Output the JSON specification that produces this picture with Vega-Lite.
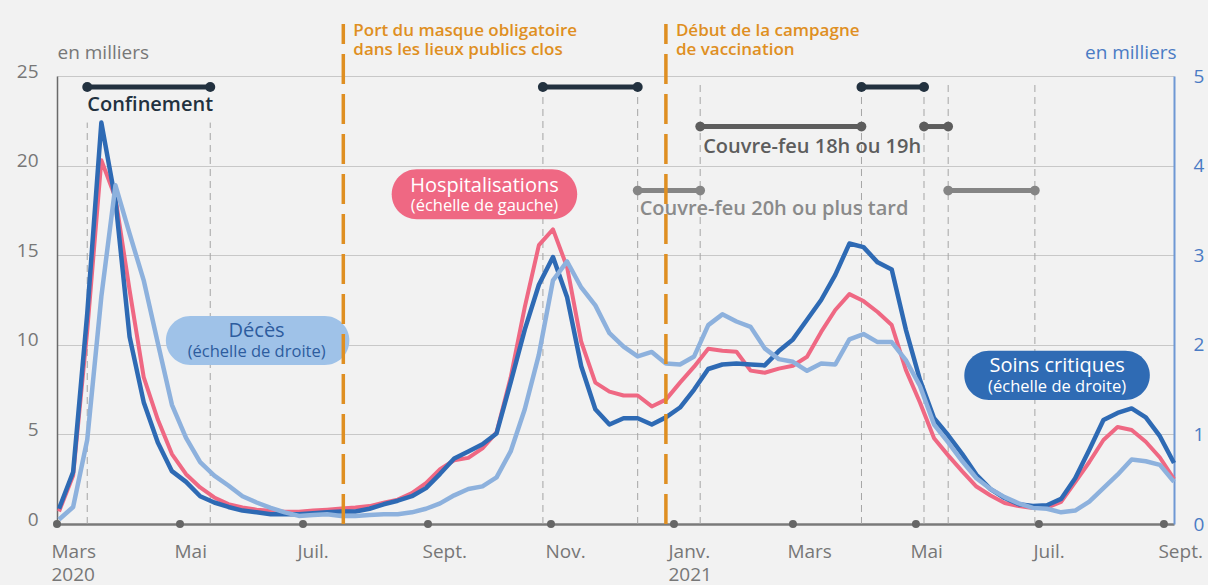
{
  "$schema": "https://vega.github.io/schema/vega-lite/v6.json",
  "width": 1117,
  "height": 448,
  "autosize": {"type": "none"},
  "padding": {"left": 57, "top": 76, "right": 35, "bottom": 61},
  "background": "#f2f2f2",
  "config": {"font": "Open Sans", "view": {"stroke": null}},
  "datasets": {
    "series": [
      {"date": "2020-03-02", "hosp": 0.7, "rea": 0.17, "dc": 0.05},
      {"date": "2020-03-09", "hosp": 2.7, "rea": 0.58, "dc": 0.19},
      {"date": "2020-03-16", "hosp": 10.8, "rea": 2.35, "dc": 0.94},
      {"date": "2020-03-23", "hosp": 20.3, "rea": 4.48, "dc": 2.54},
      {"date": "2020-03-30", "hosp": 18.2, "rea": 3.61, "dc": 3.78},
      {"date": "2020-04-06", "hosp": 13.05, "rea": 2.09, "dc": 3.24},
      {"date": "2020-04-13", "hosp": 8.2, "rea": 1.36, "dc": 2.72},
      {"date": "2020-04-20", "hosp": 5.83, "rea": 0.91, "dc": 2.02},
      {"date": "2020-04-27", "hosp": 3.9, "rea": 0.59, "dc": 1.33},
      {"date": "2020-05-04", "hosp": 2.78, "rea": 0.47, "dc": 0.96},
      {"date": "2020-05-11", "hosp": 2.04, "rea": 0.31, "dc": 0.69},
      {"date": "2020-05-18", "hosp": 1.48, "rea": 0.24, "dc": 0.54},
      {"date": "2020-05-25", "hosp": 1.11, "rea": 0.19, "dc": 0.43},
      {"date": "2020-06-01", "hosp": 0.92, "rea": 0.15, "dc": 0.31},
      {"date": "2020-06-08", "hosp": 0.8, "rea": 0.13, "dc": 0.24},
      {"date": "2020-06-15", "hosp": 0.74, "rea": 0.11, "dc": 0.18},
      {"date": "2020-06-22", "hosp": 0.69, "rea": 0.11, "dc": 0.13},
      {"date": "2020-06-29", "hosp": 0.68, "rea": 0.11, "dc": 0.09},
      {"date": "2020-07-06", "hosp": 0.75, "rea": 0.12, "dc": 0.1},
      {"date": "2020-07-13", "hosp": 0.8, "rea": 0.13, "dc": 0.11},
      {"date": "2020-07-20", "hosp": 0.86, "rea": 0.14, "dc": 0.09},
      {"date": "2020-07-27", "hosp": 0.92, "rea": 0.14, "dc": 0.09},
      {"date": "2020-08-03", "hosp": 1.0, "rea": 0.17, "dc": 0.1},
      {"date": "2020-08-10", "hosp": 1.19, "rea": 0.22, "dc": 0.11},
      {"date": "2020-08-17", "hosp": 1.36, "rea": 0.26, "dc": 0.11},
      {"date": "2020-08-24", "hosp": 1.72, "rea": 0.31, "dc": 0.13},
      {"date": "2020-08-31", "hosp": 2.28, "rea": 0.4, "dc": 0.17},
      {"date": "2020-09-07", "hosp": 3.06, "rea": 0.56, "dc": 0.23},
      {"date": "2020-09-14", "hosp": 3.56, "rea": 0.73, "dc": 0.32},
      {"date": "2020-09-21", "hosp": 3.69, "rea": 0.81, "dc": 0.39},
      {"date": "2020-09-28", "hosp": 4.22, "rea": 0.89, "dc": 0.42},
      {"date": "2020-10-05", "hosp": 5.11, "rea": 1.01, "dc": 0.52},
      {"date": "2020-10-12", "hosp": 8.17, "rea": 1.58, "dc": 0.81},
      {"date": "2020-10-19", "hosp": 12.1, "rea": 2.17, "dc": 1.28},
      {"date": "2020-10-26", "hosp": 15.56, "rea": 2.67, "dc": 1.89},
      {"date": "2020-11-02", "hosp": 16.44, "rea": 2.98, "dc": 2.72},
      {"date": "2020-11-09", "hosp": 14.33, "rea": 2.53, "dc": 2.93},
      {"date": "2020-11-16", "hosp": 10.17, "rea": 1.76, "dc": 2.64},
      {"date": "2020-11-23", "hosp": 7.89, "rea": 1.28, "dc": 2.44},
      {"date": "2020-11-30", "hosp": 7.39, "rea": 1.11, "dc": 2.13},
      {"date": "2020-12-07", "hosp": 7.17, "rea": 1.18, "dc": 1.98},
      {"date": "2020-12-14", "hosp": 7.17, "rea": 1.18, "dc": 1.87},
      {"date": "2020-12-21", "hosp": 6.56, "rea": 1.11, "dc": 1.92},
      {"date": "2020-12-28", "hosp": 6.94, "rea": 1.19, "dc": 1.79},
      {"date": "2021-01-04", "hosp": 7.89, "rea": 1.3, "dc": 1.78},
      {"date": "2021-01-11", "hosp": 8.78, "rea": 1.5, "dc": 1.87},
      {"date": "2021-01-18", "hosp": 9.78, "rea": 1.73, "dc": 2.22},
      {"date": "2021-01-25", "hosp": 9.67, "rea": 1.78, "dc": 2.34},
      {"date": "2021-02-01", "hosp": 9.61, "rea": 1.79, "dc": 2.26},
      {"date": "2021-02-08", "hosp": 8.56, "rea": 1.78, "dc": 2.2},
      {"date": "2021-02-15", "hosp": 8.44, "rea": 1.77, "dc": 1.96},
      {"date": "2021-02-22", "hosp": 8.67, "rea": 1.93, "dc": 1.84},
      {"date": "2021-03-01", "hosp": 8.83, "rea": 2.06, "dc": 1.81},
      {"date": "2021-03-08", "hosp": 9.33, "rea": 2.28, "dc": 1.71},
      {"date": "2021-03-15", "hosp": 10.72, "rea": 2.5, "dc": 1.79},
      {"date": "2021-03-22", "hosp": 11.94, "rea": 2.78, "dc": 1.78},
      {"date": "2021-03-29", "hosp": 12.83, "rea": 3.13, "dc": 2.06},
      {"date": "2021-04-05", "hosp": 12.44, "rea": 3.09, "dc": 2.12},
      {"date": "2021-04-12", "hosp": 11.83, "rea": 2.92, "dc": 2.03},
      {"date": "2021-04-19", "hosp": 11.1, "rea": 2.84, "dc": 2.03},
      {"date": "2021-04-26", "hosp": 8.6, "rea": 2.17, "dc": 1.83},
      {"date": "2021-05-03", "hosp": 6.78, "rea": 1.61, "dc": 1.54},
      {"date": "2021-05-10", "hosp": 4.78, "rea": 1.18, "dc": 1.11},
      {"date": "2021-05-17", "hosp": 3.83, "rea": 0.99, "dc": 0.91},
      {"date": "2021-05-24", "hosp": 2.94, "rea": 0.78, "dc": 0.7},
      {"date": "2021-05-31", "hosp": 2.09, "rea": 0.55, "dc": 0.51},
      {"date": "2021-06-07", "hosp": 1.59, "rea": 0.39, "dc": 0.39},
      {"date": "2021-06-14", "hosp": 1.17, "rea": 0.29, "dc": 0.3},
      {"date": "2021-06-21", "hosp": 1.0, "rea": 0.22, "dc": 0.23},
      {"date": "2021-06-28", "hosp": 0.89, "rea": 0.2, "dc": 0.18},
      {"date": "2021-07-05", "hosp": 0.92, "rea": 0.21, "dc": 0.17},
      {"date": "2021-07-12", "hosp": 1.23, "rea": 0.28, "dc": 0.13},
      {"date": "2021-07-19", "hosp": 2.34, "rea": 0.51, "dc": 0.15},
      {"date": "2021-07-26", "hosp": 3.46, "rea": 0.83, "dc": 0.25},
      {"date": "2021-08-02", "hosp": 4.69, "rea": 1.16, "dc": 0.4},
      {"date": "2021-08-09", "hosp": 5.41, "rea": 1.24, "dc": 0.55},
      {"date": "2021-08-16", "hosp": 5.25, "rea": 1.29, "dc": 0.72},
      {"date": "2021-08-23", "hosp": 4.59, "rea": 1.19, "dc": 0.7},
      {"date": "2021-08-30", "hosp": 3.71, "rea": 0.98, "dc": 0.66},
      {"date": "2021-09-06", "hosp": 2.5, "rea": 0.68, "dc": 0.47}
    ],
    "events": [
      {"type": "Confinement", "bar": 1, "date": "2020-03-16"},
      {"type": "Confinement", "bar": 1, "date": "2020-05-16"},
      {"type": "Confinement", "bar": 2, "date": "2020-10-28"},
      {"type": "Confinement", "bar": 2, "date": "2020-12-14"},
      {"type": "Confinement", "bar": 3, "date": "2021-04-04"},
      {"type": "Confinement", "bar": 3, "date": "2021-05-05"},
      {"type": "Couvre-feu 18h ou 19h", "bar": 4, "date": "2021-01-14"},
      {"type": "Couvre-feu 18h ou 19h", "bar": 4, "date": "2021-04-04"},
      {"type": "Couvre-feu 18h ou 19h", "bar": 5, "date": "2021-05-05"},
      {"type": "Couvre-feu 18h ou 19h", "bar": 5, "date": "2021-05-17"},
      {"type": "Couvre-feu 20h ou plus tard", "bar": 6, "date": "2020-12-14"},
      {"type": "Couvre-feu 20h ou plus tard", "bar": 6, "date": "2021-01-14"},
      {"type": "Couvre-feu 20h ou plus tard", "bar": 7, "date": "2021-05-17"},
      {"type": "Couvre-feu 20h ou plus tard", "bar": 7, "date": "2021-06-29"}
    ],
    "switches": [
      {"date": "2020-03-16", "kind": "confinement1"},
      {"date": "2020-05-16", "kind": "confinement1"},
      {"date": "2020-10-28", "kind": "autre"},
      {"date": "2020-12-14", "kind": "autre"},
      {"date": "2021-01-14", "kind": "autre"},
      {"date": "2021-04-04", "kind": "autre"},
      {"date": "2021-05-05", "kind": "autre"},
      {"date": "2021-05-17", "kind": "autre"},
      {"date": "2021-06-29", "kind": "autre"}
    ],
    "periods": [
      {"type": "Confinement"},
      {"type": "Couvre-feu 18h ou 19h"},
      {"type": "Couvre-feu 20h ou plus tard"}
    ],
    "measures": [
      {"date": "2020-07-21", "label": "Port du masque obligatoire\ndans les lieux publics clos"},
      {"date": "2020-12-28", "label": "Début de la campagne\nde vaccination"}
    ],
    "legend": [
      {"series": "Hospitalisations", "note": "(échelle de gauche)"},
      {"series": "Décès", "note": "(échelle de droite)"},
      {"series": "Soins critiques", "note": "(échelle de droite)"}
    ],
    "months": [
      {"date": "2020-03-01"}, {"date": "2020-05-01"}, {"date": "2020-07-01"},
      {"date": "2020-09-01"}, {"date": "2020-11-01"}, {"date": "2021-01-01"},
      {"date": "2021-03-01"}, {"date": "2021-05-01"}, {"date": "2021-07-01"},
      {"date": "2021-09-01"}
    ]
  },
  "layer": [
    {
      "layer": [
        {
          "data": {"name": "switches"},
          "transform": [{"filter": "datum.kind == 'confinement1'"}],
          "mark": {"type": "rule", "color": "#a5a5a5", "strokeWidth": 1, "strokeDash": [7, 5]},
          "encoding": {
            "x": {"field": "date", "type": "temporal", "scale": {"type": "utc"}},
            "y": {"datum": 0},
            "y2": {"datum": 22.4}
          }
        },
        {
          "data": {"name": "switches"},
          "transform": [{"filter": "datum.kind == 'autre'"}],
          "mark": {"type": "rule", "color": "#a5a5a5", "strokeWidth": 1, "strokeDash": [7, 5]},
          "encoding": {
            "x": {"field": "date", "type": "temporal", "scale": {"type": "utc"}},
            "y": {"datum": 0},
            "y2": {"datum": 24.6}
          }
        },
        {
          "data": {"name": "events"},
          "transform": [{"filter": "datum.type == 'Couvre-feu 20h ou plus tard'"}],
          "mark": {"type": "line", "color": "#858585", "strokeWidth": 5, "point": {"filled": true, "size": 95, "color": "#858585", "opacity": 1}},
          "encoding": {
            "x": {"field": "date", "type": "temporal", "scale": {"type": "utc"}},
            "y": {"datum": 18.61},
            "detail": {"field": "bar", "type": "nominal"}
          }
        },
        {
          "data": {"name": "events"},
          "transform": [{"filter": "datum.type == 'Couvre-feu 18h ou 19h'"}],
          "mark": {"type": "line", "color": "#5d5d5d", "strokeWidth": 5, "point": {"filled": true, "size": 95, "color": "#5d5d5d", "opacity": 1}},
          "encoding": {
            "x": {"field": "date", "type": "temporal", "scale": {"type": "utc"}},
            "y": {"datum": 22.18},
            "detail": {"field": "bar", "type": "nominal"}
          }
        },
        {
          "data": {"name": "events"},
          "transform": [{"filter": "datum.type == 'Confinement'"}],
          "mark": {"type": "line", "color": "#22313f", "strokeWidth": 5, "point": {"filled": true, "size": 100, "color": "#22313f", "opacity": 1}},
          "encoding": {
            "x": {"field": "date", "type": "temporal", "scale": {"type": "utc"}},
            "y": {"datum": 24.39},
            "detail": {"field": "bar", "type": "nominal"}
          }
        },
        {
          "data": {"name": "periods"},
          "transform": [{"filter": "datum.type == 'Confinement'"}],
          "mark": {"type": "text", "align": "left", "baseline": "alphabetic", "fontSize": 20, "fontWeight": 600, "color": "#22313f"},
          "encoding": {
            "x": {"datum": {"year": 2020, "month": 3, "date": 16, "utc": true}, "type": "temporal", "scale": {"type": "utc"}},
            "y": {"datum": 23.05},
            "text": {"field": "type"}
          }
        },
        {
          "data": {"name": "periods"},
          "transform": [{"filter": "datum.type == 'Couvre-feu 18h ou 19h'"}],
          "mark": {"type": "text", "align": "left", "baseline": "alphabetic", "fontSize": 20, "fontWeight": 600, "color": "#5d5d5d", "dx": 3},
          "encoding": {
            "x": {"datum": {"year": 2021, "month": 1, "date": 14, "utc": true}, "type": "temporal", "scale": {"type": "utc"}},
            "y": {"datum": 20.69},
            "text": {"field": "type"}
          }
        },
        {
          "data": {"name": "periods"},
          "transform": [{"filter": "datum.type == 'Couvre-feu 20h ou plus tard'"}],
          "mark": {"type": "text", "align": "left", "baseline": "alphabetic", "fontSize": 20, "fontWeight": 600, "color": "#8a8a8a", "dx": 2},
          "encoding": {
            "x": {"datum": {"year": 2020, "month": 12, "date": 14, "utc": true}, "type": "temporal", "scale": {"type": "utc"}},
            "y": {"datum": 17.24},
            "text": {"field": "type"}
          }
        },
        {
          "data": {"name": "legend"},
          "transform": [{"filter": "datum.series == 'Hospitalisations'"}],
          "mark": {"type": "rect", "color": "#ef6883", "cornerRadius": 25},
          "encoding": {
            "x": {"datum": {"year": 2020, "month": 8, "date": 14, "utc": true}, "type": "temporal", "scale": {"type": "utc"}},
            "x2": {"datum": {"year": 2020, "month": 11, "date": 14, "utc": true}},
            "y": {"datum": 19.79},
            "y2": {"datum": 17.0}
          }
        },
        {
          "data": {"name": "legend"},
          "transform": [{"filter": "datum.series == 'Décès'"}],
          "mark": {"type": "rect", "color": "#9fc2e8", "cornerRadius": 24.5},
          "encoding": {
            "x": {"datum": {"year": 2020, "month": 4, "date": 24, "utc": true}, "type": "temporal", "scale": {"type": "utc"}},
            "x2": {"datum": {"year": 2020, "month": 7, "date": 24, "utc": true}},
            "y": {"datum": 11.61},
            "y2": {"datum": 8.87}
          }
        },
        {
          "data": {"name": "legend"},
          "transform": [{"filter": "datum.series == 'Soins critiques'"}],
          "mark": {"type": "rect", "color": "#2f6bb4", "cornerRadius": 24.5},
          "encoding": {
            "x": {"datum": {"year": 2021, "month": 5, "date": 25, "utc": true}, "type": "temporal", "scale": {"type": "utc"}},
            "x2": {"datum": {"year": 2021, "month": 8, "date": 25, "utc": true}},
            "y": {"datum": 9.67},
            "y2": {"datum": 6.92}
          }
        },
        {
          "data": {"name": "legend"},
          "transform": [{"filter": "datum.series == 'Hospitalisations'"}],
          "mark": {"type": "text", "align": "center", "baseline": "alphabetic", "fontSize": 20, "color": "white"},
          "encoding": {
            "x": {"datum": {"year": 2020, "month": 9, "date": 29, "utc": true}, "type": "temporal", "scale": {"type": "utc"}},
            "y": {"datum": 18.54},
            "text": {"field": "series"}
          }
        },
        {
          "data": {"name": "legend"},
          "transform": [{"filter": "datum.series == 'Hospitalisations'"}],
          "mark": {"type": "text", "align": "center", "baseline": "alphabetic", "fontSize": 16.5, "color": "white"},
          "encoding": {
            "x": {"datum": {"year": 2020, "month": 9, "date": 29, "utc": true}, "type": "temporal", "scale": {"type": "utc"}},
            "y": {"datum": 17.48},
            "text": {"field": "note"}
          }
        },
        {
          "data": {"name": "legend"},
          "transform": [{"filter": "datum.series == 'Décès'"}],
          "mark": {"type": "text", "align": "center", "baseline": "alphabetic", "fontSize": 20, "color": "#2d5c9e"},
          "encoding": {
            "x": {"datum": {"year": 2020, "month": 6, "date": 8, "utc": true}, "type": "temporal", "scale": {"type": "utc"}},
            "y": {"datum": 10.44},
            "text": {"field": "series"}
          }
        },
        {
          "data": {"name": "legend"},
          "transform": [{"filter": "datum.series == 'Décès'"}],
          "mark": {"type": "text", "align": "center", "baseline": "alphabetic", "fontSize": 16.5, "color": "#2d5c9e"},
          "encoding": {
            "x": {"datum": {"year": 2020, "month": 6, "date": 8, "utc": true}, "type": "temporal", "scale": {"type": "utc"}},
            "y": {"datum": 9.34},
            "text": {"field": "note"}
          }
        },
        {
          "data": {"name": "legend"},
          "transform": [{"filter": "datum.series == 'Soins critiques'"}],
          "mark": {"type": "text", "align": "center", "baseline": "alphabetic", "fontSize": 20, "color": "white"},
          "encoding": {
            "x": {"datum": {"year": 2021, "month": 7, "date": 10, "utc": true}, "type": "temporal", "scale": {"type": "utc"}},
            "y": {"datum": 8.5},
            "text": {"field": "series"}
          }
        },
        {
          "data": {"name": "legend"},
          "transform": [{"filter": "datum.series == 'Soins critiques'"}],
          "mark": {"type": "text", "align": "center", "baseline": "alphabetic", "fontSize": 16.5, "color": "white"},
          "encoding": {
            "x": {"datum": {"year": 2021, "month": 7, "date": 10, "utc": true}, "type": "temporal", "scale": {"type": "utc"}},
            "y": {"datum": 7.35},
            "text": {"field": "note"}
          }
        },
        {
          "data": {"name": "series"},
          "mark": {"type": "line", "color": "#ef6883", "strokeWidth": 4, "strokeJoin": "round"},
          "encoding": {
            "x": {
              "field": "date", "type": "temporal",
              "scale": {"type": "utc", "domain": [{"year": 2020, "month": 3, "date": 1, "utc": true}, {"year": 2021, "month": 9, "date": 6, "utc": true}]},
              "axis": {
                "title": null,
                "values": [
                  {"year": 2020, "month": 3, "date": 1, "utc": true},
                  {"year": 2020, "month": 5, "date": 1, "utc": true},
                  {"year": 2020, "month": 7, "date": 1, "utc": true},
                  {"year": 2020, "month": 9, "date": 1, "utc": true},
                  {"year": 2020, "month": 11, "date": 1, "utc": true},
                  {"year": 2021, "month": 1, "date": 1, "utc": true},
                  {"year": 2021, "month": 3, "date": 1, "utc": true},
                  {"year": 2021, "month": 5, "date": 1, "utc": true},
                  {"year": 2021, "month": 7, "date": 1, "utc": true},
                  {"year": 2021, "month": 9, "date": 1, "utc": true}
                ],
                "labelExpr": "utcmonth(datum.value) == 2 ? (utcyear(datum.value) == 2020 ? ['Mars', '2020'] : 'Mars') : utcmonth(datum.value) == 0 ? ['Janv.', '2021'] : utcmonth(datum.value) == 4 ? 'Mai' : utcmonth(datum.value) == 6 ? 'Juil.' : utcmonth(datum.value) == 8 ? 'Sept.' : 'Nov.'",
                "ticks": false,
                "tickSize": 0,
                "grid": false,
                "domainColor": "#7a7a7a",
                "domainWidth": 2.5,
                "labelFontSize": 19,
                "labelColor": "#777777",
                "labelAlign": "left",
                "labelBaseline": "top",
                "labelOffset": -6,
                "labelPadding": 18,
                "labelLineHeight": 23,
                "labelOverlap": false,
                "labelBound": false,
                "labelFlush": false
              }
            },
            "y": {
              "field": "hosp", "type": "quantitative",
              "scale": {"domain": [0, 25], "nice": false},
              "axis": {
                "orient": "left",
                "values": [0, 5, 10, 15, 20, 25],
                "format": "d",
                "grid": true,
                "gridColor": "#c8c8c8",
                "gridWidth": 1.2,
                "domainColor": "#6a6a6a",
                "domainWidth": 1.5,
                "ticks": false,
                "tickSize": 0,
                "labelPadding": 19,
                "labelFontSize": 19,
                "labelColor": "#777777",
                "labelOffset": -5,
                "title": "en milliers",
                "titleAngle": 0,
                "titleAlign": "left",
                "titleBaseline": "alphabetic",
                "titleX": 0,
                "titleY": -18,
                "titleFontSize": 19,
                "titleFontWeight": "normal",
                "titleColor": "#777777"
              }
            }
          }
        }
      ]
    },
    {
      "layer": [
        {
          "data": {"name": "series"},
          "mark": {"type": "line", "color": "#2e6ab4", "strokeWidth": 4.5, "strokeJoin": "round"},
          "encoding": {
            "x": {"field": "date", "type": "temporal", "scale": {"type": "utc"}},
            "y": {
              "field": "rea", "type": "quantitative",
              "scale": {"domain": [0, 5], "nice": false},
              "axis": {
                "orient": "right",
                "values": [0, 1, 2, 3, 4, 5],
                "format": "d",
                "grid": false,
                "domainColor": "#6f98d4",
                "domainWidth": 2,
                "ticks": false,
                "tickSize": 0,
                "labelPadding": 19,
                "labelFontSize": 19,
                "labelColor": "#4a7bc4",
                "title": "en milliers",
                "titleAngle": 0,
                "titleAlign": "right",
                "titleBaseline": "alphabetic",
                "titleX": 2,
                "titleY": -18,
                "titleFontSize": 19,
                "titleFontWeight": "normal",
                "titleColor": "#4a7bc4"
              }
            }
          }
        },
        {
          "data": {"name": "series"},
          "mark": {"type": "line", "color": "#8db1dd", "strokeWidth": 4.5, "strokeJoin": "round"},
          "encoding": {
            "x": {"field": "date", "type": "temporal", "scale": {"type": "utc"}},
            "y": {"field": "dc", "type": "quantitative"}
          }
        },
        {
          "data": {"name": "measures"},
          "mark": {"type": "rule", "color": "#df8f22", "strokeWidth": 3.5, "strokeDash": [30, 10]},
          "encoding": {
            "x": {"field": "date", "type": "temporal", "scale": {"type": "utc"}},
            "y": {"datum": 0},
            "y2": {"datum": 5.58}
          }
        },
        {
          "data": {"name": "measures"},
          "mark": {"type": "text", "align": "left", "baseline": "alphabetic", "fontSize": 17, "fontWeight": 600, "color": "#df8f22", "dx": 10, "lineBreak": "\n", "lineHeight": 19},
          "encoding": {
            "x": {"field": "date", "type": "temporal", "scale": {"type": "utc"}},
            "y": {"datum": 5.446},
            "text": {"field": "label"}
          }
        },
        {
          "data": {"name": "months"},
          "mark": {"type": "point", "filled": true, "size": 64, "color": "#666666", "opacity": 1},
          "encoding": {
            "x": {"field": "date", "type": "temporal", "scale": {"type": "utc"}},
            "y": {"datum": 0}
          }
        }
      ]
    }
  ],
  "resolve": {"scale": {"y": "independent"}}
}
